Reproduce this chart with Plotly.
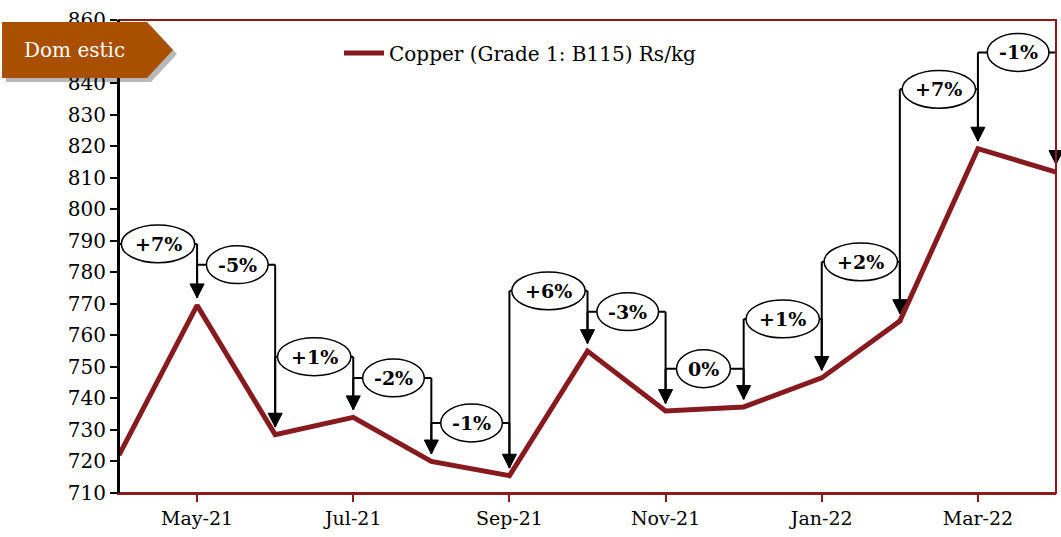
import plotly.graph_objects as go

# ---------------- data ----------------
months = ["Apr-21", "May-21", "Jun-21", "Jul-21", "Aug-21", "Sep-21", "Oct-21",
          "Nov-21", "Dec-21", "Jan-22", "Feb-22", "Mar-22", "Apr-22"]
copper = [722.0, 769.5, 728.5, 734.0, 720.0, 715.5, 755.0,
          736.0, 737.3, 746.5, 764.5, 819.2, 811.8]
change_labels = ["+7%", "-5%", "+1%", "-2%", "-1%", "+6%", "-3%",
                 "0%", "+1%", "+2%", "+7%", "-1%"]
# height (in Rs/kg) at which each change bubble sits
bracket_levels = [789.0, 782.4, 753.2, 746.5, 732.2, 774.1, 767.5,
                  749.4, 765.2, 783.3, 838.0, 849.7]
tick_months = ["May-21", "Jul-21", "Sep-21", "Nov-21", "Jan-22", "Mar-22"]
y_ticks = [710, 720, 730, 740, 750, 760, 770, 780, 790, 800, 810, 820, 830, 840, 850, 860]
series_name = "Copper (Grade 1: B115) Rs/kg"
badge_text = "Dom estic"

# ---------------- styling ----------------
LINE_RED = "#861A1F"
BORDER_RED = "#8B1A1A"
BADGE = "#A85000"
FONT = "DejaVu Serif"

W, H = 1061, 537
ML, MR, MT, MB = 119, 5, 20, 44
PW, PH = W - ML - MR, H - MT - MB
Y_RANGE = [710, 860]
X_RANGE = [0, len(months) - 1]

x = list(range(len(months)))
tickvals = [months.index(m) for m in tick_months]
# the 850 label sits fully under the "Domestic" badge in the original, so it is left blank
y_ticktext = ["" if v == 850 else str(v) for v in y_ticks]


def X(v):  # x axis value -> paper fraction (not clipped at plot edge)
    return (v - X_RANGE[0]) / (X_RANGE[1] - X_RANGE[0])


def Y(v):  # y axis value -> paper fraction
    return (v - Y_RANGE[0]) / (Y_RANGE[1] - Y_RANGE[0])


fig = go.Figure()
fig.add_trace(go.Scatter(x=x, y=copper, mode="lines", name=series_name,
                         line=dict(color=LINE_RED, width=5)))

shapes = []
annotations = []

GAP = 2.4      # arrow tip distance above point (data units)
HEAD_H = 4.4   # arrow head height (data units)
HEAD_W = 0.09  # arrow head half width (x index units)
EH = 6.0       # bubble half height (data units)
P = dict(xref="paper", yref="paper", layer="above")

for i, lab in enumerate(change_labels):
    L = bracket_levels[i]
    left_end = copper[i] + (GAP if i > 0 else 0)
    tip = copper[i + 1] + GAP
    blk = dict(color="black", width=2)
    shapes.append(dict(type="line", x0=X(i), x1=X(i), y0=Y(L), y1=Y(left_end), line=blk, **P))
    shapes.append(dict(type="line", x0=X(i + 1), x1=X(i + 1), y0=Y(L), y1=Y(tip + HEAD_H * 0.8),
                       line=blk, **P))
    shapes.append(dict(type="path",
                       path=(f"M {X(i + 1 - HEAD_W):.5f},{Y(tip + HEAD_H):.5f} "
                             f"L {X(i + 1 + HEAD_W):.5f},{Y(tip + HEAD_H):.5f} "
                             f"L {X(i + 1):.5f},{Y(tip):.5f} Z"),
                       fillcolor="black", line=dict(color="black", width=1), **P))
    shapes.append(dict(type="line", x0=X(i), x1=X(i + 1), y0=Y(L), y1=Y(L), line=blk, **P))
    if lab.startswith("+"):
        ex0, ex1 = i + 0.03, i + 0.97
    elif lab.startswith("-"):
        ex0, ex1 = i + 0.12, i + 0.91
    else:
        ex0, ex1 = i + 0.14, i + 0.83
    shapes.append(dict(type="circle", x0=X(ex0), x1=X(ex1), y0=Y(L - EH), y1=Y(L + EH),
                       fillcolor="white", line=dict(color="black", width=1.5), **P))
    annotations.append(dict(x=(ex0 + ex1) / 2, y=L, xref="x", yref="y", text=f"<b>{lab}</b>",
                            xanchor="center", yanchor="middle",
                            showarrow=False, font=dict(family=FONT, size=19, color="black")))

# plot border
shapes.append(dict(type="rect", x0=0, x1=1, y0=0, y1=1,
                   line=dict(color=BORDER_RED, width=2), **P))
# black y axis line
shapes.append(dict(type="line", x0=0, x1=0, y0=0, y1=1,
                   line=dict(color="black", width=2), **P))


def px2paper(px, py):
    return (px - ML) / PW, (H - MB - py) / PH


def poly(pts):
    s = ""
    for k, (a, b) in enumerate(pts):
        xp, yp = px2paper(a, b)
        s += ("M" if k == 0 else "L") + f" {xp:.5f},{yp:.5f} "
    return s + "Z"


badge_pts = [(2, 22), (147, 22), (173, 50), (147, 78), (2, 78)]
shadow_pts = [(a + 4, b + 4) for a, b in badge_pts]
shapes.append(dict(type="path", path=poly(shadow_pts),
                   fillcolor="rgba(0,0,0,0.28)", line=dict(width=0), **P))
shapes.append(dict(type="path", path=poly(badge_pts),
                   fillcolor=BADGE, line=dict(width=0), **P))
bx, by = px2paper(74, 50)
annotations.append(dict(x=bx, y=by, xref="paper", yref="paper", text=badge_text,
                        xanchor="center", yanchor="middle",
                        showarrow=False, font=dict(family=FONT, size=20, color="white")))

lx, ly = px2paper(339, 53)
fig.update_layout(
    width=W, height=H,
    margin=dict(l=ML, r=MR, t=MT, b=MB, autoexpand=False),
    plot_bgcolor="white", paper_bgcolor="white",
    font=dict(family=FONT, color="black"),
    shapes=shapes, annotations=annotations,
    showlegend=True,
    legend=dict(x=lx, y=ly, xanchor="left", yanchor="middle", itemwidth=40,
                font=dict(family=FONT, size=20, color="black"), bgcolor="rgba(0,0,0,0)"),
    xaxis=dict(range=X_RANGE, tickvals=tickvals, ticktext=tick_months,
               showgrid=False, zeroline=False, showline=True, linecolor=BORDER_RED, linewidth=2,
               ticks="outside", ticklen=7, tickwidth=2, tickcolor=BORDER_RED,
               tickfont=dict(family=FONT, size=19, color="black")),
    yaxis=dict(range=Y_RANGE, tickvals=y_ticks, ticktext=y_ticktext,
               showgrid=False, zeroline=False,
               showline=True, linecolor="black", linewidth=2,
               ticks="outside", ticklen=7, tickwidth=2, tickcolor="black",
               tickfont=dict(family=FONT, size=20, color="black")),
)

fig.write_html("out.html", config={"displayModeBar": False},
               post_script="document.body.style.margin='0';")
